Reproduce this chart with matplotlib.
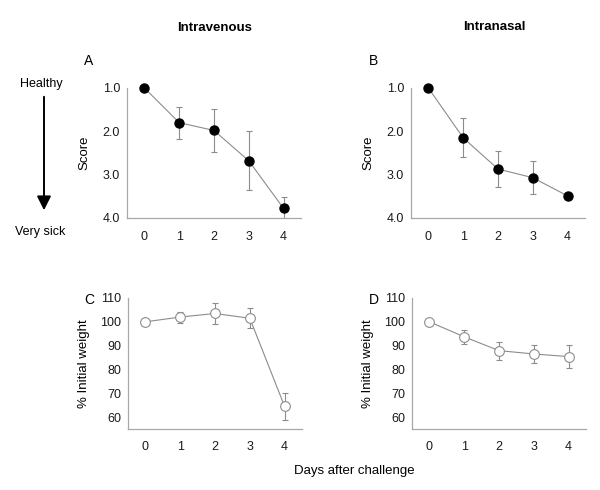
import matplotlib
matplotlib.use("Agg")
import matplotlib.pyplot as plt

plt.rcParams['font.family'] = ['Liberation Sans', 'DejaVu Sans']

days = [0, 1, 2, 3, 4]
score_iv = [1.0, 1.8, 1.98, 2.68, 3.78]
score_iv_err = [0.0, 0.37, 0.5, 0.68, 0.26]
score_in = [1.0, 2.15, 2.87, 3.07, 3.49]
score_in_err = [0.0, 0.45, 0.42, 0.38, 0.0]
weight_iv = [100.0, 102.0, 103.5, 101.5, 64.5]
weight_iv_err = [0.0, 2.3, 4.6, 4.2, 5.8]
weight_in = [100.0, 93.7, 87.9, 86.5, 85.4]
weight_in_err = [0.0, 3.0, 3.8, 3.7, 4.8]
score_ticks = [1.0, 2.0, 3.0, 4.0]
score_ticklabels = ["1.0", "2.0", "3.0", "4.0"]
weight_ticks = [60, 70, 80, 90, 100, 110]

W, H = 600, 490
fig = plt.figure(figsize=(W / 100, H / 100), dpi=100)


def rect(l, t, r, b):
    return [l / W, 1 - b / H, (r - l) / W, (b - t) / H]


def fx(x):
    return x / W


def fy(y):
    return 1 - y / H


gray = '#8c8c8c'
spine_gray = '#a8a8a8'


def style(ax):
    for s in ['top', 'right']:
        ax.spines[s].set_visible(False)
    for s in ['left', 'bottom']:
        ax.spines[s].set_color(spine_gray)
        ax.spines[s].set_linewidth(0.9)
    ax.tick_params(axis='both', length=0, labelsize=9, colors='#1a1a1a')
    ax.tick_params(axis='x', pad=9)
    ax.tick_params(axis='y', pad=5)
    ax.set_xlim(-0.5, 4.5)
    ax.set_xticks(days)


def score_panel(rc, y, err):
    ax = fig.add_axes(rc)
    style(ax)
    ax.errorbar(days, y, yerr=err, fmt='none', ecolor=gray, elinewidth=0.8,
                capsize=2.5, capthick=0.8, zorder=2)
    ax.plot(days, y, color=gray, lw=0.8, marker='o', markersize=6.5,
            markerfacecolor='black', markeredgecolor='black', zorder=3,
            clip_on=False)
    ax.set_ylim(4.0, 1.0)
    ax.set_yticks(score_ticks)
    ax.set_yticklabels(score_ticklabels)
    ax.set_ylabel('Score', fontsize=9.5, labelpad=9)
    return ax


def weight_panel(rc, y, err):
    ax = fig.add_axes(rc)
    style(ax)
    ax.errorbar(days, y, yerr=err, fmt='none', ecolor=gray, elinewidth=0.8,
                capsize=2.5, capthick=0.8, zorder=2)
    ax.plot(days, y, color=gray, lw=0.8, marker='o', markersize=7,
            markerfacecolor='white', markeredgecolor=gray, markeredgewidth=0.8,
            zorder=3, clip_on=False)
    ax.set_ylim(55, 110)
    ax.set_yticks(weight_ticks)
    ax.set_ylabel('% Initial weight', fontsize=9.5, labelpad=7)
    return ax


axA = score_panel(rect(127, 88, 301, 218), score_iv, score_iv_err)
axB = score_panel(rect(411, 88, 585, 218), score_in, score_in_err)
axC = weight_panel(rect(128, 298, 302, 429), weight_iv, weight_iv_err)
axD = weight_panel(rect(412, 298, 586, 429), weight_in, weight_in_err)

fig.text(fx(215), fy(28), 'Intravenous', fontsize=9.5, fontweight='bold',
         ha='center', va='center')
fig.text(fx(494), fy(27), 'Intranasal', fontsize=9.5, fontweight='bold',
         ha='center', va='center')

for lab, x, y in [('A', 89, 61), ('B', 374, 61), ('C', 89, 300), ('D', 374, 300)]:
    fig.text(fx(x), fy(y), lab, fontsize=10, ha='center', va='center')

fig.text(fx(354), fy(471), 'Days after challenge', fontsize=9.5,
         ha='center', va='center')

fig.text(fx(41), fy(84), 'Healthy', fontsize=9, ha='center', va='center')
fig.text(fx(40), fy(232), 'Very sick', fontsize=9, ha='center', va='center')
fig.patches.append(matplotlib.patches.FancyArrowPatch(
    (fx(44), fy(94)), (fx(44), fy(213)), transform=fig.transFigure,
    arrowstyle='-|>,head_length=0.6,head_width=0.3', mutation_scale=14,
    color='black', lw=1.4))

fig.savefig('out.png', dpi=100)
